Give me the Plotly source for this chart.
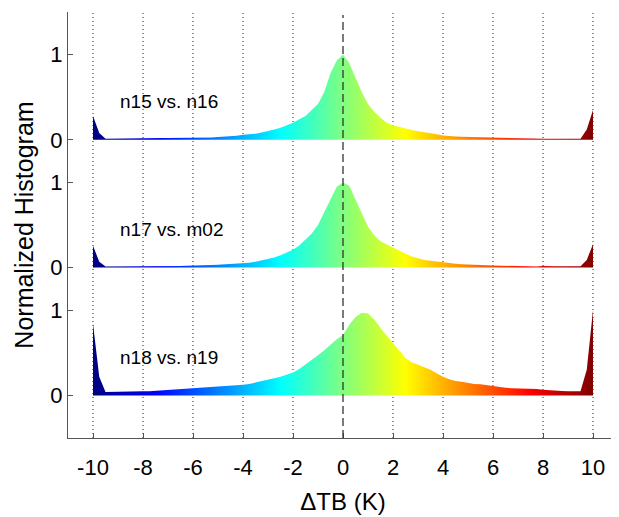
import plotly.graph_objects as go

# ---- data ----
dtb_bins = [round(-10 + 0.25 * i, 2) for i in range(81)]

hist_n15_n16 = [
    0.28, 0.08, 0.012, 0.012, 0.012, 0.012, 0.012, 0.013, 0.013, 0.014,
    0.015, 0.02, 0.022, 0.022, 0.023, 0.024, 0.025, 0.026, 0.027, 0.028,
    0.032, 0.035, 0.04, 0.048, 0.058, 0.064, 0.072, 0.085, 0.1, 0.12,
    0.14, 0.17, 0.2, 0.24, 0.28, 0.35, 0.42, 0.56, 0.78, 0.93,
    1.0,
    0.9, 0.73, 0.56, 0.42, 0.33, 0.26, 0.2, 0.17, 0.15, 0.13,
    0.115, 0.1, 0.09, 0.08, 0.065, 0.05, 0.04, 0.038, 0.035, 0.033,
    0.03, 0.028, 0.025, 0.02, 0.02, 0.02, 0.019, 0.018, 0.017, 0.015,
    0.013, 0.012, 0.012, 0.012, 0.012, 0.012, 0.012, 0.012, 0.12, 0.35,
]

hist_n17_m02 = [
    0.255, 0.07, 0.012, 0.012, 0.012, 0.012, 0.012, 0.012, 0.015, 0.018,
    0.018, 0.019, 0.02, 0.02, 0.02, 0.022, 0.026, 0.028, 0.03, 0.03,
    0.032, 0.036, 0.04, 0.045, 0.05, 0.058, 0.07, 0.085, 0.1, 0.12,
    0.145, 0.175, 0.21, 0.26, 0.33, 0.4, 0.5, 0.65, 0.82, 0.95,
    1.0,
    0.96, 0.8, 0.64, 0.48, 0.38, 0.31, 0.27, 0.235, 0.2, 0.165,
    0.13, 0.11, 0.09, 0.08, 0.07, 0.06, 0.05, 0.045, 0.04, 0.035,
    0.032, 0.03, 0.028, 0.025, 0.022, 0.02, 0.02, 0.018, 0.016, 0.015,
    0.012, 0.02, 0.015, 0.015, 0.015, 0.015, 0.015, 0.015, 0.09, 0.275,
]

hist_n18_n19 = [
    0.84, 0.22, 0.04, 0.04, 0.04, 0.04, 0.042, 0.045, 0.048, 0.05,
    0.055, 0.06, 0.062, 0.065, 0.07, 0.08, 0.082, 0.085, 0.09, 0.095,
    0.1, 0.105, 0.11, 0.12, 0.125, 0.135, 0.15, 0.17, 0.185, 0.2,
    0.22, 0.245, 0.27, 0.31, 0.36, 0.41, 0.47, 0.53, 0.6, 0.66,
    0.71,
    0.83, 0.92, 0.97, 0.96, 0.89, 0.79, 0.7, 0.61, 0.52, 0.44,
    0.39, 0.36, 0.33, 0.3, 0.26, 0.22, 0.19, 0.17, 0.16, 0.145,
    0.135, 0.13, 0.12, 0.105, 0.095, 0.09, 0.085, 0.083, 0.08, 0.078,
    0.075, 0.065, 0.058, 0.055, 0.052, 0.05, 0.05, 0.05, 0.3, 1.0,
]

panel_labels = ["n15 vs. n16", "n17 vs. m02", "n18 vs. n19"]
panel_offsets = [3.0, 1.5, 0.0]
panel_series = [hist_n15_n16, hist_n17_m02, hist_n18_n19]

x_tick_vals = [-10, -8, -6, -4, -2, 0, 2, 4, 6, 8, 10]
x_tick_text = ["-10", "-8", "-6", "-4", "-2", "0", "2", "4", "6", "8", "10"]
y_tick_vals = [0, 1, 1.5, 2.5, 3, 4]
y_tick_text = ["0", "1", "0", "1", "0", "1"]

FONT = "'Liberation Sans', Arial, Helvetica, sans-serif"

jet = [
    [0.0, "rgb(0,0,128)"],
    [0.125, "rgb(0,0,255)"],
    [0.375, "rgb(0,255,255)"],
    [0.5, "rgb(128,255,128)"],
    [0.625, "rgb(255,255,0)"],
    [0.875, "rgb(255,0,0)"],
    [1.0, "rgb(128,0,0)"],
]

fig = go.Figure()

for label, base, vals in zip(panel_labels, panel_offsets, panel_series):
    xs = list(dtb_bins) + [dtb_bins[-1], dtb_bins[0]]
    ys = [base + v for v in vals] + [base, base]
    fig.add_trace(go.Scatter(
        x=xs, y=ys, mode="lines", fill="toself",
        line=dict(width=0, color="rgba(0,0,0,0)"),
        fillgradient=dict(type="horizontal", colorscale=jet,
                          start=dtb_bins[0], stop=dtb_bins[-1]),
        hoverinfo="skip", showlegend=False,
    ))
    fig.add_annotation(
        x=-9.0, y=base + 0.45, xref="x", yref="y", text=label,
        showarrow=False, xanchor="left", yanchor="middle",
        font=dict(family=FONT, size=19, color="black"),
    )

# vertical guide lines at x ticks (dotted), dashed at zero
for xv in x_tick_vals:
    if xv == 0:
        fig.add_shape(type="line", x0=xv, x1=xv, y0=0.0, y1=0.993,
                      xref="x", yref="paper", layer="above",
                      line=dict(color="#333333", width=1.3, dash="8px,4px"))
    else:
        fig.add_shape(type="line", x0=xv, x1=xv, y0=0.0, y1=1.0,
                      xref="x", yref="paper", layer="below",
                      line=dict(color="#222222", width=1, dash="1px,3px"))

# page body has an 8px default margin, so the figure is sized to fit the window
fig.update_layout(
    width=611, height=509,
    margin=dict(l=60, r=1, t=4, b=79, autoexpand=False),
    paper_bgcolor="white", plot_bgcolor="white",
    font=dict(family=FONT, color="black"),
    showlegend=False,
)
fig.update_xaxes(
    range=[-11, 11], tickvals=x_tick_vals, ticktext=x_tick_text,
    ticks="inside", ticklen=5, tickcolor="#555555", tickwidth=1,
    showline=True, linecolor="#555555", linewidth=1,
    showgrid=False, zeroline=False, automargin=False,
    tickfont=dict(family=FONT, size=22, color="black"),
    ticklabelstandoff=10,
    title=dict(text="ΔTB (K)", font=dict(family=FONT, size=24, color="black"),
               standoff=13),
)
fig.update_yaxes(
    range=[-0.5, 4.5], tickvals=y_tick_vals, ticktext=y_tick_text,
    ticks="inside", ticklen=5, tickcolor="#555555", tickwidth=1,
    showline=True, linecolor="#555555", linewidth=1,
    showgrid=False, zeroline=False, automargin=False,
    tickfont=dict(family=FONT, size=22, color="black"),
    ticklabelstandoff=0,
    title=dict(text="Normalized Histogram",
               font=dict(family=FONT, size=25, color="black"), standoff=9),
)

fig.write_html("out.html")
